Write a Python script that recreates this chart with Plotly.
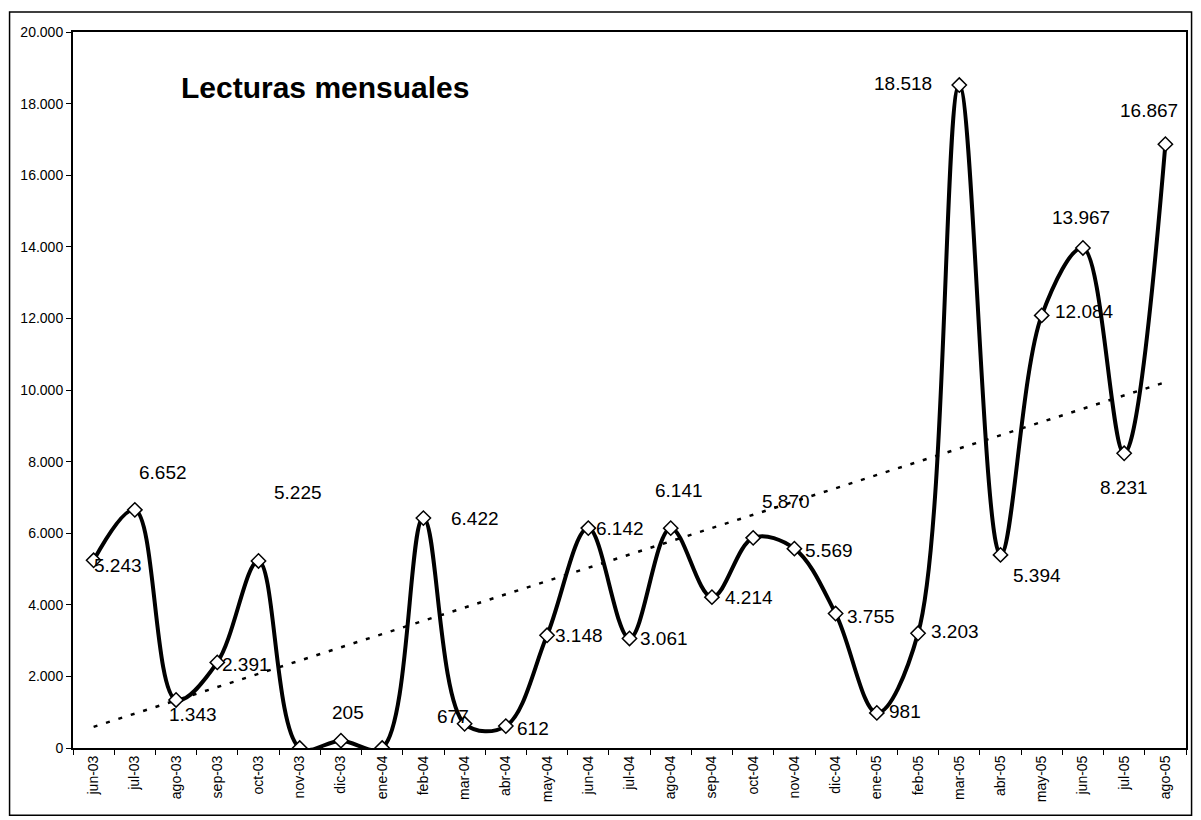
import numpy as np
import plotly.graph_objects as go

# meses y lecturas
meses = ['jun-03', 'jul-03', 'ago-03', 'sep-03', 'oct-03', 'nov-03', 'dic-03', 'ene-04',
         'feb-04', 'mar-04', 'abr-04', 'may-04', 'jun-04', 'jul-04', 'ago-04', 'sep-04',
         'oct-04', 'nov-04', 'dic-04', 'ene-05', 'feb-05', 'mar-05', 'abr-05', 'may-05',
         'jun-05', 'jul-05', 'ago-05']
lecturas = [5243, 6652, 1343, 2391, 5225, 0, 205, 0,
            6422, 677, 612, 3148, 6142, 3061, 6141, 4214,
            5870, 5569, 3755, 981, 3203, 18518, 5394, 12084,
            13967, 8231, 16867]
etiquetas = ['5.243', '6.652', '1.343', '2.391', '5.225', None, '205', None,
             '6.422', '677', '612', '3.148', '6.142', '3.061', '6.141', '4.214',
             '5.870', '5.569', '3.755', '981', '3.203', '18.518', '5.394', '12.084',
             '13.967', '8.231', '16.867']

# desplazamiento de cada etiqueta en pixeles (dx, dy hacia abajo)
desp = [(24, 5), (28, -37), (17, 15), (29, 2), (39, -68), None, (7, -28), None,
        (52, 0), (-12, -7), (27, 2), (32, 0), (32, 0), (34, 0), (8, -38), (37, 0),
        (33, -36), (35, 2), (35, 3), (28, -1), (37, -2), (-56, -2), (36, 21), (43, -4),
        (-2, -30), (0, 34), (-16, -34)]

FUENTE = 'Arial, Liberation Sans, sans-serif'

# linea de tendencia lineal (como la de Excel)
idx = np.arange(len(lecturas))
m, b = np.polyfit(idx, lecturas, 1)
tendencia = m * idx + b

fig = go.Figure()
fig.add_trace(go.Scatter(x=meses, y=tendencia, mode='lines',
                         line=dict(color='black', width=2.5, dash='4px,9px'),
                         hoverinfo='skip'))
fig.add_trace(go.Scatter(x=meses, y=lecturas, mode='lines+markers',
                         line=dict(color='black', width=4, shape='spline', smoothing=1),
                         marker=dict(symbol='diamond', size=11, color='white',
                                     line=dict(color='black', width=1.5)),
                         cliponaxis=True))

for mes, val, txt, d in zip(meses, lecturas, etiquetas, desp):
    if txt is None:
        continue
    fig.add_annotation(x=mes, y=val, text=txt, showarrow=False,
                       xshift=d[0], yshift=-d[1],
                       font=dict(family=FUENTE, size=19, color='black'))

fig.add_annotation(x=0.095, y=0.923, xref='paper', yref='paper', xanchor='left',
                   yanchor='middle', text='<b>Lecturas mensuales</b>', showarrow=False,
                   font=dict(family=FUENTE, size=30, color='black'))

# marco exterior del grafico
fig.add_shape(type='rect', xref='paper', yref='paper',
              x0=-0.057, x1=1.005, y0=-0.094, y1=1.028,
              line=dict(color='black', width=1.5))

fig.update_xaxes(type='category', range=[-0.5, len(meses) - 0.5],
                 tickangle=-90, tickson='boundaries',
                 ticks='outside', ticklen=5, tickcolor='black',
                 showline=True, linecolor='black', linewidth=2, mirror=True,
                 showgrid=False, tickfont=dict(family=FUENTE, size=14, color='black'))
fig.update_yaxes(range=[0, 20000], dtick=2000, tickformat=',d',
                 ticks='outside', ticklen=5, tickcolor='black',
                 showline=True, linecolor='black', linewidth=2, mirror=True,
                 showgrid=False, zeroline=False,
                 tickfont=dict(family=FUENTE, size=14, color='black'))

# la pagina tiene 8px de margen, por eso 1193x812
fig.update_layout(width=1193, height=812, separators=',.',
                  margin=dict(l=65, r=15, t=24, b=72),
                  plot_bgcolor='white', paper_bgcolor='white',
                  showlegend=False)

fig.write_html('out.html')
